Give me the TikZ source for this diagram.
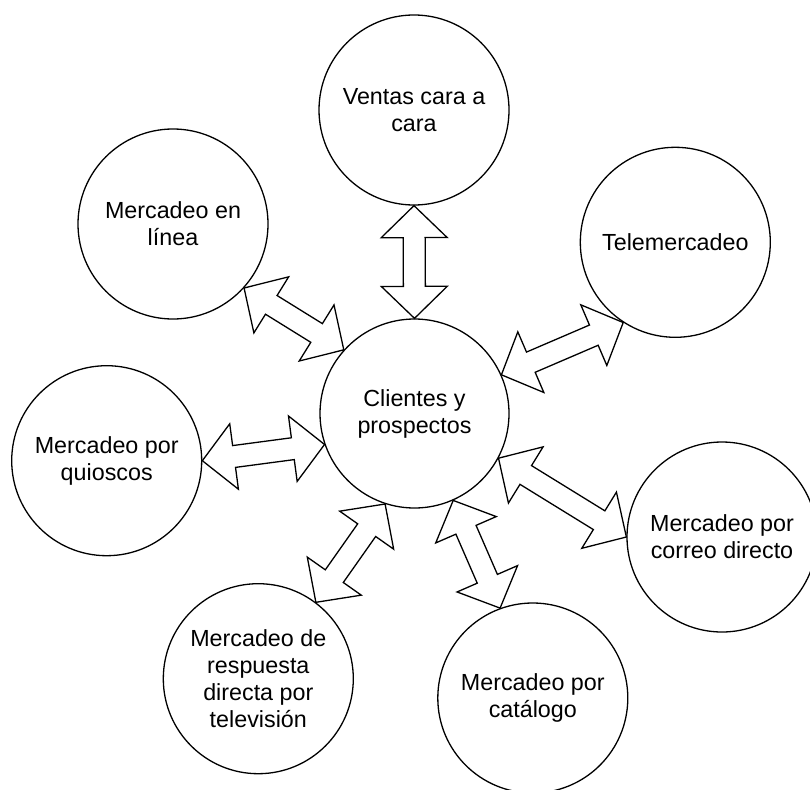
\documentclass[tikz,border=0pt]{standalone}
\usepackage{fontspec}
\setmainfont{Liberation Sans}
\usetikzlibrary{calc}
\tikzset{
  bub/.style={circle, draw=black, line width=1.3pt, fill=white, minimum size=190pt, inner sep=0pt, align=center, font=\fontsize{23.3}{27}\selectfont},
  cbub/.style={bub, minimum size=189pt},
  blockarrow/.style={draw=black, line width=1.3pt, fill=white, line join=miter}
}
\newcommand\dbarrow[2]{%
  \path[blockarrow] (#1)
   -- ($(#1)!32pt!(#2)!33pt!90:(#2)$)
   -- ($(#1)!32pt!(#2)!11pt!90:(#2)$)
   -- ($(#2)!32pt!(#1)!11pt!-90:(#1)$)
   -- ($(#2)!32pt!(#1)!33pt!-90:(#1)$)
   -- (#2)
   -- ($(#2)!32pt!(#1)!33pt!90:(#1)$)
   -- ($(#2)!32pt!(#1)!11pt!90:(#1)$)
   -- ($(#1)!32pt!(#2)!11pt!-90:(#2)$)
   -- ($(#1)!32pt!(#2)!33pt!-90:(#2)$)
   -- cycle;}
\begin{document}
\begin{tikzpicture}[x=1pt,y=-1pt]
\useasboundingbox (0,0) rectangle (810,789);
\node[cbub] (c) at (414.5,413.5) {Clientes y\\prospectos};
\node[bub] (v) at (414,110) {Ventas cara a\\cara};
\node[bub] (l) at (173,224) {Mercadeo en\\línea};
\node[bub] (t) at (675.3,242.3) {Telemercadeo};
\node[bub] (q) at (106.7,460.7) {Mercadeo por\\quioscos};
\node[bub] (d) at (722,537) {Mercadeo por\\correo directo};
\node[bub] (tv) at (258.3,678.7) {Mercadeo de\\respuesta\\directa por\\televisión};
\node[bub] (k) at (532.8,698) {Mercadeo por\\catálogo};
\dbarrow{v.270}{c.90}
\dbarrow{l.-42}{c.138.8}
\dbarrow{t.-123}{c.24.8}
\dbarrow{q.0}{c.-161.6}
\dbarrow{d.180}{c.-28.4}
\dbarrow{tv.53.6}{c.-108.2}
\dbarrow{k.110.5}{c.-66.3}
\end{tikzpicture}
\end{document}
